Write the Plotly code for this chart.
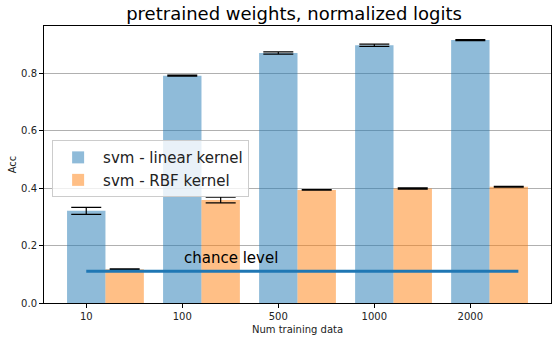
import plotly.graph_objects as go

# data
categories = ['10', '100', '500', '1000', '2000']
linear_acc = [0.321, 0.792, 0.871, 0.898, 0.916]
linear_err = [0.012, 0.002, 0.004, 0.004, 0.002]
rbf_acc = [0.118, 0.359, 0.394, 0.399, 0.405]
rbf_err = [0.001, 0.010, 0.001, 0.002, 0.001]
chance = 0.111

blue = 'rgba(31,119,180,0.5)'
orange = 'rgba(255,127,14,0.5)'
idx = list(range(len(categories)))
w = 0.4

fig = go.Figure()
fig.add_trace(go.Bar(
    x=idx, y=linear_acc, width=w, name='svm - linear kernel',
    marker=dict(color=blue, line=dict(width=0)),
    error_y=dict(type='data', array=linear_err, color='black', thickness=1.2, width=15),
))
fig.add_trace(go.Bar(
    x=[i + w for i in idx], y=rbf_acc, width=w, name='svm - RBF kernel',
    marker=dict(color=orange, line=dict(width=0)),
    error_y=dict(type='data', array=rbf_err, color='black', thickness=1.2, width=15),
))
fig.add_trace(go.Scatter(
    x=[0, 4.5], y=[chance, chance], mode='lines',
    line=dict(color='#1f77b4', width=3), showlegend=False,
))
fig.add_annotation(x=1.0, y=chance + 0.008, text='chance level', showarrow=False,
                   xanchor='left', yanchor='bottom', font=dict(size=15, color='black'))

fig.update_layout(
    width=558, height=341,
    margin=dict(l=44, r=7, t=26, b=38),
    barmode='overlay',
    plot_bgcolor='white', paper_bgcolor='white',
    font=dict(family='DejaVu Sans', size=10, color='#222'),
    title=dict(text='pretrained weights, normalized logits', x=0.527, xanchor='center',
               y=0.977, yanchor='top', pad=dict(t=0, b=0),
               font=dict(size=18, color='black')),
    legend=dict(x=0.016, y=0.588, xanchor='left', yanchor='top', itemwidth=40,
                bgcolor='rgba(255,255,255,0.8)', bordercolor='#cccccc', borderwidth=1,
                font=dict(size=15, color='#222')),
)
fig.update_xaxes(
    range=[-0.44, 4.84], tickvals=idx, ticktext=categories, automargin=False,
    showline=True, linecolor='black', linewidth=1, mirror=True,
    ticks='outside', ticklen=4, tickcolor='black', showgrid=False, zeroline=False,
    title=dict(text='Num training data', font=dict(size=10), standoff=4),
)
fig.update_yaxes(
    range=[0, 0.965], tickvals=[0, 0.2, 0.4, 0.6, 0.8], tickformat='.1f', automargin=False,
    showline=True, linecolor='black', linewidth=1, mirror=True,
    ticks='outside', ticklen=4, tickcolor='black',
    showgrid=True, gridcolor='#b0b0b0', gridwidth=1, zeroline=False,
    title=dict(text='Acc', font=dict(size=10), standoff=2),
)

# drop the default 8px body margin so the figure fills the window
fig.write_html('out.html', config={'displayModeBar': False},
               post_script="document.body.style.margin='0';")
